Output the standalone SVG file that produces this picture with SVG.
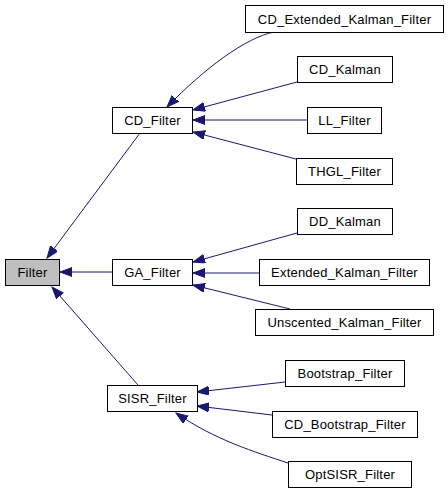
<svg xmlns="http://www.w3.org/2000/svg" width="448" height="493" viewBox="0 0 448 493">
<style>
.n rect{fill:#fff;stroke:#000;stroke-width:1}
.n text{font-family:"Liberation Sans",Arial,sans-serif;font-size:13px;letter-spacing:0.2px;text-anchor:middle;fill:#000}
.e path{fill:none;stroke:#191970;stroke-width:1;marker-end:url(#a)}
</style>
<defs>
<marker id="a" markerUnits="userSpaceOnUse" markerWidth="13" markerHeight="10" refX="12" refY="4.5" orient="auto">
<path d="M0,0 L12,4.5 L0,9 z" fill="#191970" stroke="#191970" stroke-width="1"/>
</marker>
</defs>
<rect width="448" height="493" fill="#fff"/>
<g id="edges" class="e">
<path d="M140,133 L47,258"/>
<path d="M112,272 L60,272"/>
<path d="M138,385 L52,287"/>
<path d="M274,32 C245,38 205,68 167,107"/>
<path d="M297,82 L193,110"/>
<path d="M307,120 L193,120"/>
<path d="M296,159 L193,132"/>
<path d="M297,233 L193,262"/>
<path d="M259,273 L193,273"/>
<path d="M290,309 L193,285"/>
<path d="M285,382 L197,392"/>
<path d="M272,415 L197,406"/>
<path d="M288,463 C255,452 215,440 176,413"/>
</g>
<g id="Filter" class="n"><rect x="5.5" y="259.5" width="54" height="26" style="fill:#bfbfbf"/><text x="32.5" y="277">Filter</text></g>
<g id="CD_Filter" class="n"><rect x="112.5" y="107.5" width="80" height="26"/><text x="152.5" y="125">CD_Filter</text></g>
<g id="GA_Filter" class="n"><rect x="112.5" y="259.5" width="80" height="26"/><text x="152.5" y="277">GA_Filter</text></g>
<g id="SISR_Filter" class="n"><rect x="107.5" y="385.5" width="90" height="26"/><text x="152.5" y="403">SISR_Filter</text></g>
<g id="CD_Extended_Kalman_Filter" class="n"><rect x="245.5" y="5.5" width="198" height="27"/><text x="344.5" y="23.5">CD_Extended_Kalman_Filter</text></g>
<g id="CD_Kalman" class="n"><rect x="297.5" y="56.5" width="95" height="26"/><text x="345" y="74">CD_Kalman</text></g>
<g id="LL_Filter" class="n"><rect x="307.5" y="107.5" width="74" height="26"/><text x="344.5" y="125">LL_Filter</text></g>
<g id="THGL_Filter" class="n"><rect x="296.5" y="158.5" width="96" height="26"/><text x="344.5" y="176">THGL_Filter</text></g>
<g id="DD_Kalman" class="n"><rect x="297.5" y="208.5" width="95" height="26"/><text x="345" y="226">DD_Kalman</text></g>
<g id="Extended_Kalman_Filter" class="n"><rect x="259.5" y="259.5" width="170" height="26"/><text x="344.5" y="277">Extended_Kalman_Filter</text></g>
<g id="Unscented_Kalman_Filter" class="n"><rect x="255.5" y="309.5" width="178" height="26"/><text x="344.5" y="327">Unscented_Kalman_Filter</text></g>
<g id="Bootstrap_Filter" class="n"><rect x="285.5" y="360.5" width="119" height="26"/><text x="345" y="378">Bootstrap_Filter</text></g>
<g id="CD_Bootstrap_Filter" class="n"><rect x="272.5" y="411.5" width="145" height="26"/><text x="345" y="429">CD_Bootstrap_Filter</text></g>
<g id="OptSISR_Filter" class="n"><rect x="288.5" y="461.5" width="123" height="26"/><text x="350" y="479">OptSISR_Filter</text></g>
</svg>
